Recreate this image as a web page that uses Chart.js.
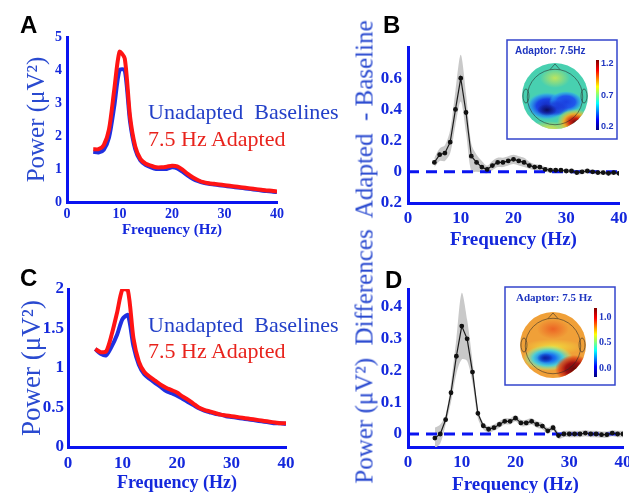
<!DOCTYPE html>
<html lang="en">
<head>
<meta charset="UTF-8">
<title>Adaptation power spectra</title>
<script src="https://cdn.jsdelivr.net/npm/chart.js"></script>
<style>
  html, body { margin: 0; padding: 0; background: #fff; }
  body { width: 629px; height: 493px; position: relative; overflow: hidden; }
  canvas { position: absolute; }
  .letter { position: absolute; font: bold 24px "Liberation Sans", Arial, sans-serif; color: #000; line-height: 1; }
  .legend { position: absolute; font: 22px "Liberation Serif", "Times New Roman", serif; line-height: 1; white-space: pre; }
  .blue { color: #2340c8; }
  .red { color: #e8231c; }
  .ytitle { position: absolute; left: 364px; top: 252px; transform: translate(-50%, -50%) rotate(-90deg);
            font: 25px "Liberation Serif", "Times New Roman", serif; color: #2a4ad0; white-space: pre; line-height: 1; }
</style>
</head>
<body>

<canvas id="chartA" width="310" height="245" style="left:0;top:0"></canvas>
<canvas id="chartB" width="330" height="256" style="left:310px;top:0"></canvas>
<canvas id="chartC" width="310" height="245" style="left:0;top:250px"></canvas>
<canvas id="chartD" width="330" height="248" style="left:310px;top:250px"></canvas>

<div class="letter" style="left:20px;top:13px">A</div>
<div class="letter" style="left:383px;top:13px">B</div>
<div class="letter" style="left:20px;top:266px">C</div>
<div class="letter" style="left:385px;top:268px">D</div>

<div class="legend blue" style="left:148px;top:101px">Unadapted  Baselines</div>
<div class="legend red" style="left:148px;top:128px">7.5 Hz Adapted</div>
<div class="legend blue" style="left:148px;top:314px">Unadapted  Baselines</div>
<div class="legend red" style="left:148px;top:340px">7.5 Hz Adapted</div>

<div class="ytitle">Power (μV²)  Differences  Adapted  - Baseline</div>

<script>
// ---- data ----
const freqs = [5, 6, 7, 8, 9, 10, 11, 12, 13, 14, 15, 16, 17, 18, 19, 20, 21, 22,
               23, 24, 25, 26, 27, 28, 29, 30, 31, 32, 33, 34, 35, 36, 37, 38, 39, 40];

// panel A: power spectra
const baselineA = [1.52, 1.5, 1.58, 1.95, 2.9, 4.0, 4.0, 2.45, 1.6, 1.25, 1.12, 1.05, 1.0, 1.0, 1.0, 1.05, 1.02, 0.92,
                   0.8, 0.7, 0.63, 0.58, 0.55, 0.53, 0.51, 0.49, 0.47, 0.45, 0.43, 0.41, 0.39, 0.37, 0.35, 0.33, 0.32, 0.3];
const adaptedA = [1.6, 1.6, 1.72, 2.2, 3.4, 4.55, 4.35, 2.6, 1.68, 1.3, 1.16, 1.1, 1.05, 1.05, 1.07, 1.1, 1.08, 0.98,
                  0.85, 0.74, 0.66, 0.6, 0.57, 0.55, 0.53, 0.51, 0.49, 0.47, 0.45, 0.43, 0.41, 0.39, 0.37, 0.35, 0.34, 0.32];

// panel B: difference with error band
const diffB = [0.06, 0.11, 0.12, 0.19, 0.40, 0.60, 0.38, 0.10, 0.06, 0.03, 0.015, 0.04, 0.06, 0.06, 0.07, 0.08, 0.07, 0.06,
               0.04, 0.03, 0.03, 0.015, 0.01, 0.01, 0.01, 0.005, 0.005, -0.005, 0.0, 0.005, 0.0, -0.005, -0.005, -0.01, -0.005, -0.01];
const upperB = [0.09, 0.15, 0.17, 0.27, 0.52, 0.75, 0.50, 0.18, 0.11, 0.07, 0.04, 0.07, 0.09, 0.09, 0.10, 0.11, 0.10, 0.09,
                0.065, 0.05, 0.045, 0.03, 0.025, 0.022, 0.02, 0.018, 0.016, 0.01, 0.014, 0.016, 0.012, 0.008, 0.008, 0.004, 0.008, 0.004];
const lowerB = [0.03, 0.07, 0.07, 0.12, 0.30, 0.45, 0.25, 0.0, 0.0, -0.005, -0.01, 0.01, 0.03, 0.03, 0.04, 0.05, 0.04, 0.03,
                0.02, 0.01, 0.01, 0.0, -0.004, -0.004, -0.002, -0.008, -0.008, -0.02, -0.014, -0.008, -0.012, -0.018, -0.018, -0.024, -0.018, -0.024];

// panel C: power spectra
const baselineC = [1.24, 1.18, 1.16, 1.27, 1.42, 1.62, 1.67, 1.28, 1.04, 0.92, 0.86, 0.81, 0.76, 0.71, 0.68, 0.65, 0.61, 0.57,
                   0.53, 0.49, 0.46, 0.44, 0.42, 0.41, 0.39, 0.38, 0.37, 0.36, 0.35, 0.34, 0.33, 0.32, 0.31, 0.3, 0.3, 0.29];
const adaptedC = [1.24, 1.2, 1.21, 1.42, 1.7, 2.0, 1.98, 1.38, 1.08, 0.95, 0.89, 0.84, 0.79, 0.75, 0.72, 0.69, 0.64, 0.6,
                  0.55, 0.5, 0.47, 0.45, 0.43, 0.41, 0.4, 0.39, 0.38, 0.37, 0.36, 0.35, 0.34, 0.33, 0.32, 0.31, 0.3, 0.3];

// panel D: difference with error band
const diffD = [-0.013, 0.0, 0.045, 0.13, 0.245, 0.34, 0.30, 0.195, 0.065, 0.026, 0.015, 0.02, 0.03, 0.04, 0.04, 0.05, 0.035, 0.035,
               0.04, 0.03, 0.025, 0.01, 0.02, -0.005, 0.0, 0.0, 0.0, 0.0, 0.003, 0.0, 0.0, -0.002, -0.002, 0.003, 0.0, 0.0];
const upperD = [0.02, 0.03, 0.06, 0.16, 0.30, 0.445, 0.36, 0.23, 0.08, 0.035, 0.025, 0.03, 0.04, 0.05, 0.05, 0.06, 0.045, 0.045,
                0.05, 0.04, 0.035, 0.02, 0.03, 0.005, 0.01, 0.01, 0.01, 0.01, 0.012, 0.01, 0.01, 0.008, 0.008, 0.012, 0.01, 0.01];
const lowerD = [-0.045, -0.03, 0.03, 0.10, 0.19, 0.235, 0.23, 0.16, 0.05, 0.015, 0.005, 0.01, 0.02, 0.03, 0.03, 0.04, 0.025, 0.025,
                0.03, 0.02, 0.015, 0.0, 0.01, -0.015, -0.01, -0.01, -0.01, -0.01, -0.007, -0.01, -0.01, -0.012, -0.012, -0.007, -0.01, -0.01];

const zeroLineX = [0, 40];
const xTicks = [0, 10, 20, 30, 40];
const topoLabelsB = ['1.2', '0.7', '0.2'];
const topoLabelsD = ['1.0', '0.5', '0.0'];

// ---- styles ----
const axisBlue = '#0a14f0';
const tickBlue = '#1428dc';
const titleBlue = '#2a4ad0';
const lineBlue = '#2030e0';
const lineRed = '#ff1414';
const serif = '"Liberation Serif", "Times New Roman", serif';

Chart.defaults.font.family = serif;

function pairs(xs, ys) {
  return xs.map((x, i) => ({ x: x, y: ys[i] }));
}

// plain number labels: 2, 1.5, 1, 0.5, 0
function plainTick(v) {
  return String(+v.toFixed(2));
}

function xScale(size, pad, titleSize, titlePad, height) {
  return {
    type: 'linear', min: 0, max: 40,
    afterBuildTicks: s => { s.ticks = xTicks.map(v => ({ value: v })); },
    ticks: { color: tickBlue, font: { size: size, weight: 'bold' }, padding: pad, maxRotation: 0, autoSkip: false },
    grid: { display: false, drawTicks: false },
    border: { display: true, color: axisBlue, width: 3 },
    title: { display: true, text: 'Frequency (Hz)', color: tickBlue, font: { size: titleSize, weight: 'bold' },
             padding: { top: 0, bottom: titlePad } },
    afterFit: s => { s.height = height; }
  };
}

// power spectrum panels (A, C)
function powerChart(id, base, adapted, yMax, yStep, geo) {
  return new Chart(document.getElementById(id), {
    type: 'line',
    data: {
      datasets: [
        { label: '7.5 Hz Adapted', data: pairs(freqs, adapted), borderColor: lineRed, borderWidth: 4,
          pointRadius: 0, tension: 0.25, order: 0 },
        { label: 'Unadapted Baselines', data: pairs(freqs, base), borderColor: lineBlue, borderWidth: 4,
          pointRadius: 0, tension: 0.25, order: 1 }
      ]
    },
    options: {
      responsive: false, animation: false,
      layout: { padding: geo.padding },
      plugins: { legend: { display: false }, tooltip: { enabled: false } },
      scales: {
        x: xScale(geo.xTick, geo.xPad, geo.xTitle, geo.xTitlePad, geo.xHeight),
        y: {
          min: 0, max: yMax,
          ticks: { stepSize: yStep, color: tickBlue, font: { size: geo.yTick, weight: 'bold' }, padding: geo.yPad,
                   callback: plainTick },
          grid: { display: false, drawTicks: false },
          border: { display: true, color: axisBlue, width: 3 },
          title: { display: true, text: 'Power (μV²)', color: titleBlue, font: { size: geo.yTitle },
                   padding: { top: geo.yTitlePad, bottom: 0 } },
          afterFit: s => { s.width = geo.yWidth; }
        }
      }
    }
  });
}

// simple scalp map inset, drawn after the chart
function topoPlugin(t) {
  return {
    id: 'topo',
    afterDraw(chart) {
      const ctx = chart.ctx;
      ctx.save();
      const [bx, by, bw, bh] = t.box;
      ctx.fillStyle = '#fff';
      ctx.fillRect(bx, by, bw, bh);
      ctx.strokeStyle = '#3344cc';
      ctx.lineWidth = 1.5;
      ctx.strokeRect(bx, by, bw, bh);

      ctx.fillStyle = '#1f36c0';
      ctx.font = t.titleFont;
      ctx.textBaseline = 'middle';
      ctx.textAlign = 'left';
      ctx.fillText(t.title, t.titleX, t.titleY);

      const { cx, cy, r } = t.head;
      ctx.save();
      ctx.beginPath();
      ctx.arc(cx, cy, r, 0, 2 * Math.PI);
      ctx.clip();
      ctx.fillStyle = t.base;
      ctx.fillRect(cx - r, cy - r, 2 * r, 2 * r);
      t.blobs.forEach(b => {
        ctx.save();
        ctx.translate(cx + b.dx, cy + b.dy);
        ctx.scale(1, b.ry / b.rx);
        const g = ctx.createRadialGradient(0, 0, 0, 0, 0, b.rx);
        b.stops.forEach(s => g.addColorStop(s[0], s[1]));
        ctx.fillStyle = g;
        ctx.beginPath();
        ctx.arc(0, 0, b.rx, 0, 2 * Math.PI);
        ctx.fill();
        ctx.restore();
      });
      ctx.restore();

      // head outline, nose, ears
      ctx.strokeStyle = 'rgba(40,40,40,0.7)';
      ctx.lineWidth = 0.8;
      ctx.beginPath();
      ctx.arc(cx, cy + 1, r * 0.84, 0, 2 * Math.PI);
      ctx.stroke();
      ctx.beginPath();
      ctx.moveTo(cx - 5, cy - r * 0.8);
      ctx.lineTo(cx, cy - r * 0.97);
      ctx.lineTo(cx + 5, cy - r * 0.8);
      ctx.stroke();
      ctx.beginPath();
      ctx.ellipse(cx - r * 0.88, cy, 3, 7, 0, 0, 2 * Math.PI);
      ctx.stroke();
      ctx.beginPath();
      ctx.ellipse(cx + r * 0.88, cy, 3, 7, 0, 0, 2 * Math.PI);
      ctx.stroke();

      // colour bar
      const cb = t.bar;
      const lg = ctx.createLinearGradient(0, cb.y, 0, cb.y + cb.h);
      [[0, '#800000'], [0.15, '#ff0000'], [0.38, '#ffff00'], [0.62, '#00ffff'], [0.85, '#0000ff'], [1, '#000080']]
        .forEach(s => lg.addColorStop(s[0], s[1]));
      ctx.fillStyle = lg;
      ctx.fillRect(cb.x, cb.y, cb.w, cb.h);
      ctx.fillStyle = '#1f36c0';
      ctx.font = t.barFont;
      t.labels.forEach((lab, i) => {
        ctx.fillText(lab, cb.x + cb.w + 2, t.labelY[i]);
      });
      ctx.restore();
    }
  };
}

// difference panels (B, D)
function diffChart(id, diff, upper, lower, yMin, yMax, yStep, tickFmt, geo, topo) {
  return new Chart(document.getElementById(id), {
    type: 'line',
    data: {
      datasets: [
        { data: pairs(freqs, diff), borderColor: '#1a1a1a', borderWidth: 1.2, pointRadius: 1.8,
          pointBackgroundColor: '#111', pointBorderColor: '#111', tension: 0, order: 0 },
        { data: pairs(zeroLineX, [0, 0]), borderColor: axisBlue, borderWidth: 3, borderDash: [11, 7],
          pointRadius: 0, order: 1 },
        { data: pairs(freqs, upper), borderWidth: 0, pointRadius: 0, backgroundColor: '#c9c9c9',
          fill: '+1', tension: 0.3, order: 2 },
        { data: pairs(freqs, lower), borderWidth: 0, pointRadius: 0, fill: false, tension: 0.3, order: 3 }
      ]
    },
    options: {
      responsive: false, animation: false,
      layout: { padding: geo.padding },
      plugins: { legend: { display: false }, tooltip: { enabled: false } },
      scales: {
        x: xScale(17, 5, 19, 0, geo.xHeight),
        y: {
          min: yMin, max: yMax,
          ticks: { stepSize: yStep, includeBounds: false, color: tickBlue, font: { size: 17, weight: 'bold' },
                   padding: 6, callback: tickFmt },
          grid: { display: false, drawTicks: false },
          border: { display: true, color: axisBlue, width: 3 },
          afterFit: s => { s.width = geo.yWidth; }
        }
      }
    },
    plugins: [topoPlugin(topo)]
  });
}

powerChart('chartA', baselineA, adaptedA, 5, 1, {
  padding: { left: 0, top: 37, right: 33, bottom: 3 },
  xTick: 14, xPad: 4, xTitle: 15, xTitlePad: 3, xHeight: 40,
  yTick: 14, yPad: 5, yTitle: 25, yTitlePad: 22, yWidth: 67
});

powerChart('chartC', baselineC, adaptedC, 2, 0.5, {
  padding: { left: 0, top: 39, right: 24, bottom: 1 },
  xTick: 17, xPad: 6, xTitle: 18, xTitlePad: 0, xHeight: 47,
  yTick: 17, yPad: 4, yTitle: 27, yTitlePad: 17, yWidth: 68
});

diffChart('chartB', diffB, upperB, lowerB, -0.2, 0.8, 0.2,
  v => (v > 0.7 ? '' : (Math.abs(v) < 1e-9 ? '0' : Math.abs(v).toFixed(1))),
  { padding: { left: 0, top: 47, right: 21, bottom: 5 }, xHeight: 48, yWidth: 98 },
  {
    box: [197, 40, 110, 99], title: 'Adaptor: 7.5Hz', titleFont: 'bold 10px "Liberation Sans", Arial, sans-serif',
    titleX: 205, titleY: 51, head: { cx: 245, cy: 96, r: 33 }, base: '#48d0b0',
    blobs: [
      { dx: 0, dy: -18, rx: 15, ry: 10, stops: [[0, 'rgba(195,230,90,0.95)'], [1, 'rgba(195,230,90,0)']] },
      { dx: -6, dy: 33, rx: 24, ry: 8, stops: [[0, 'rgba(235,225,60,0.95)'], [1, 'rgba(235,225,60,0)']] },
      { dx: -8, dy: 10, rx: 21, ry: 14, stops: [[0, '#1426b8'], [0.5, '#1a44e6'], [0.8, 'rgba(40,150,240,0.75)'], [1, 'rgba(60,200,220,0)']] },
      { dx: 11, dy: 6, rx: 17, ry: 11, stops: [[0, '#1a40e0'], [0.55, '#2058ec'], [0.85, 'rgba(40,160,240,0.6)'], [1, 'rgba(60,200,220,0)']] },
      { dx: 1, dy: 12, rx: 13, ry: 8, stops: [[0, '#1a3ad8'], [0.6, 'rgba(26,58,216,0.7)'], [1, 'rgba(26,58,216,0)']] },
      { dx: -8, dy: 14, rx: 10, ry: 6, stops: [[0, '#0c0c60'], [1, 'rgba(12,12,96,0)']] },
      { dx: 20, dy: 26, rx: 18, ry: 13, stops: [[0, '#700c0c'], [0.3, '#d02010'], [0.62, 'rgba(250,170,30,0.9)'], [1, 'rgba(230,230,60,0)']] }
    ],
    bar: { x: 286, y: 60, w: 3, h: 70 }, barFont: 'bold 9px "Liberation Sans", Arial, sans-serif',
    labels: topoLabelsB, labelY: [64, 96, 127]
  });

diffChart('chartD', diffD, upperD, lowerD, -0.041, 0.457, 0.1,
  v => (Math.abs(v) < 1e-9 ? '0' : v.toFixed(1)),
  { padding: { left: 0, top: 39, right: 17, bottom: 2 }, xHeight: 49, yWidth: 98 },
  {
    box: [195, 37, 110, 98], title: 'Adaptor: 7.5 Hz', titleFont: 'bold 11px "Liberation Serif", serif',
    titleX: 206, titleY: 48, head: { cx: 243, cy: 95, r: 33 }, base: '#f0a038',
    blobs: [
      { dx: 0, dy: -16, rx: 16, ry: 10, stops: [[0, '#ec6424'], [1, 'rgba(236,100,36,0)']] },
      { dx: 0, dy: 2, rx: 30, ry: 8, stops: [[0, 'rgba(240,222,60,0.95)'], [1, 'rgba(240,222,60,0)']] },
      { dx: -5, dy: 13, rx: 25, ry: 13, stops: [[0, '#1034d0'], [0.3, '#1a74f0'], [0.6, 'rgba(60,210,230,0.9)'], [0.85, 'rgba(160,230,140,0.5)'], [1, 'rgba(200,230,100,0)']] },
      { dx: -8, dy: 13, rx: 8, ry: 5, stops: [[0, '#0c20a0'], [1, 'rgba(12,32,160,0)']] },
      { dx: 21, dy: 24, rx: 19, ry: 14, stops: [[0, '#6a0808'], [0.45, '#a01010'], [0.78, 'rgba(220,60,20,0.75)'], [1, 'rgba(220,60,20,0)']] }
    ],
    bar: { x: 284, y: 58, w: 3, h: 69 }, barFont: 'bold 10px "Liberation Serif", serif',
    labels: topoLabelsD, labelY: [67, 92, 118]
  });
</script>
</body>
</html>
